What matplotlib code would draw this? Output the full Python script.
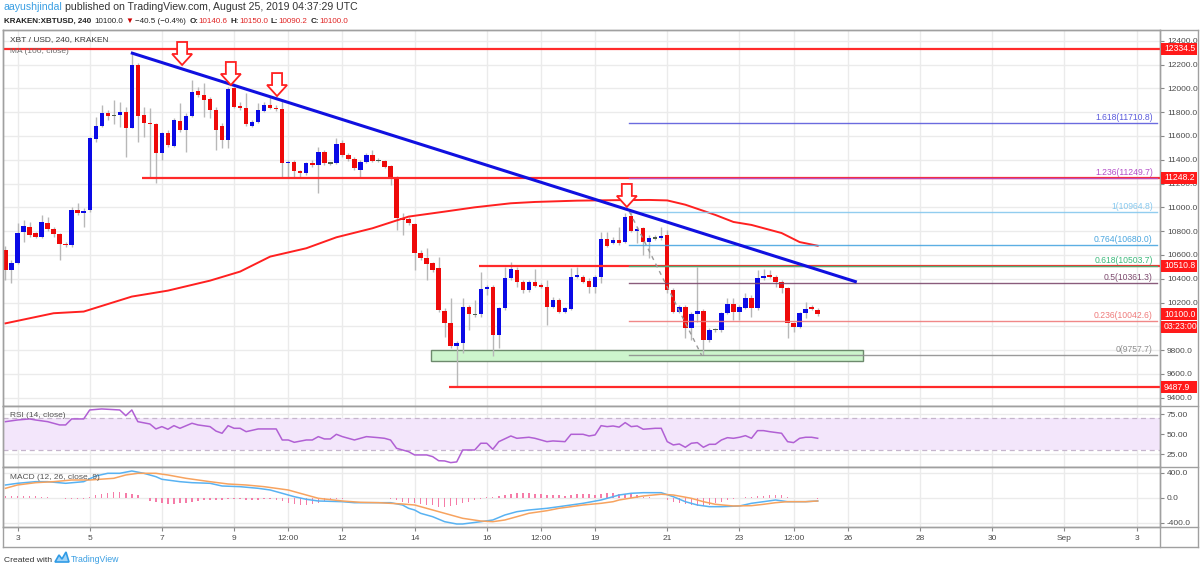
import numpy as np
import pandas as pd
import matplotlib
matplotlib.use("Agg")
import matplotlib.pyplot as plt
from matplotlib.patches import Rectangle, Polygon
from matplotlib.lines import Line2D
import matplotlib.transforms as mtransforms

# ---------------- data ----------------
start_time = "2019-08-02 16:00"          # first 4h candle
opens = [10642, 10474, 10536, 10790, 10838, 10782, 10754, 10872, 10816, 10776, 10690, 10684, 10978, 10956,
         10978, 11574, 11684, 11796, 11768, 11773, 11804, 11670, 12196, 11776, 11712, 11698, 11460, 11622,
         11516, 11726, 11650, 11768, 11978, 11944, 11908, 11818, 11684, 11566, 12000, 11852, 11838, 11684,
         11720, 11812, 11857, 11832, 11824, 11370, 11384, 11306, 11286, 11376, 11356, 11468, 11370, 11370,
         11544, 11440, 11404, 11314, 11384, 11440, 11396, 11392, 11348, 11258, 10908, 10900, 10860, 10620,
         10572, 10530, 10488, 10132, 10026, 9836, 9858, 10166, 10104, 10104, 10312, 10328, 9928, 10152,
         10404, 10474, 10370, 10306, 10370, 10348, 10334, 10166, 10222, 10124, 10144, 10412, 10418, 10384,
         10328, 10412, 10732, 10704, 10726, 10706, 10928, 10804, 10824, 10712, 10746, 10740, 10768, 10306,
         10124, 10166, 9984, 10104, 10132, 9886, 9970, 9970, 10116, 10186, 10124, 10158, 10242, 10152,
         10407, 10429, 10412, 10373, 10326, 10032, 9998, 10116, 10160, 10140.6]
highs = [10676, 10558, 10866, 10894, 10880, 10796, 10936, 10922, 10838, 10788, 10712, 11006, 11034, 10992,
         11594, 11762, 11860, 11818, 11900, 11888, 11846, 12290, 12210, 11846, 11832, 11706, 11636, 11650,
         11748, 11874, 11790, 12070, 12014, 12042, 11930, 11846, 11706, 12014, 12014, 11888, 11958, 11734,
         11874, 11888, 11930, 11860, 11902, 11398, 11398, 11314, 11384, 11398, 11510, 11482, 11384, 11580,
         11566, 11454, 11426, 11398, 11454, 11482, 11412, 11398, 11356, 11264, 10950, 10922, 10872, 10642,
         10656, 10544, 10586, 10150, 10240, 9880, 10236, 10180, 10222, 10460, 10348, 10348, 10166, 10502,
         10544, 10502, 10390, 10390, 10480, 10362, 10390, 10250, 10236, 10166, 10488, 10502, 10432, 10404,
         10432, 10796, 10796, 10754, 10838, 10950, 10964.8, 10838, 10838, 10768, 10768, 10838, 10810, 10320,
         10180, 10180, 10124, 10502, 10144, 9984, 9984, 10124, 10242, 10236, 10180, 10278, 10264, 10474,
         10480, 10474, 10432, 10390, 10334, 10040, 10124, 10208, 10180, 10150]
lows = [10390, 10368, 10524, 10712, 10754, 10740, 10740, 10804, 10754, 10558, 10670, 10670, 10936, 10838,
        10964, 11552, 11672, 11734, 11700, 11672, 11426, 11664, 11552, 11594, 11258, 11208, 11398, 11510,
        11504, 11636, 11468, 11756, 11930, 11762, 11748, 11482, 11496, 11496, 11832, 11818, 11684, 11672,
        11712, 11804, 11824, 11812, 11258, 11258, 11258, 11258, 11272, 11342, 11118, 11356, 11356, 11364,
        11426, 11392, 11314, 11258, 11376, 11384, 11382, 11328, 11188, 10810, 10768, 10852, 10474, 10558,
        10390, 10460, 10124, 9914, 9816, 9487.9, 9774, 9970, 10082, 10082, 10264, 9752, 9816, 10138,
        10390, 10334, 10278, 10292, 10334, 10320, 10012, 10152, 10110, 10110, 10138, 10404, 10362, 10278,
        10278, 10362, 10664, 10692, 10684, 10698, 10796, 10698, 10600, 10572, 10726, 10726, 10278, 10110,
        10110, 9900, 9886, 10040, 9757.7, 9872, 9956, 9956, 10104, 10054, 10054, 10144, 10082, 10138,
        10390, 10404, 10334, 10278, 9900, 9956, 9984, 10068, 10138, 10090.2]
closes = [10474, 10536, 10782, 10846, 10768, 10754, 10874, 10816, 10776, 10690, 10681, 10978, 10956, 10972,
          11580, 11686, 11796, 11768, 11774, 11804, 11670, 12196, 11768, 11712, 11700, 11460, 11622, 11524,
          11734, 11650, 11768, 11966, 11944, 11902, 11818, 11650, 11566, 11992, 11846, 11832, 11698, 11720,
          11818, 11857, 11832, 11824, 11370, 11384, 11308, 11286, 11370, 11356, 11468, 11370, 11373, 11530,
          11440, 11404, 11328, 11384, 11440, 11392, 11392, 11342, 11258, 10908, 10894, 10866, 10614, 10572,
          10524, 10474, 10138, 10026, 9836, 9864, 10166, 10104, 10100, 10314, 10328, 9928, 10152, 10404,
          10480, 10370, 10306, 10370, 10342, 10328, 10166, 10222, 10124, 10152, 10412, 10429, 10376, 10334,
          10412, 10734, 10676, 10726, 10698, 10922, 10804, 10816, 10712, 10746, 10740, 10760, 10306, 10124,
          10166, 9984, 10104, 10130, 9886, 9970, 9975, 10116, 10186, 10124, 10160, 10242, 10152, 10410,
          10424, 10412, 10370, 10326, 10032, 9998, 10116, 10149, 10149, 10100]

# MA(100) read at candle indices (index 0 = first candle)
ma_idx = [0, 8, 13, 21, 27, 34, 39, 44, 50, 55, 61, 67, 73, 78, 84, 88, 95, 101, 107, 110, 113, 118, 121,
          124, 129, 132, 135]
ma_val = [10025, 10110, 10124, 10250, 10300, 10384, 10460, 10586, 10656, 10748, 10824, 10922, 10964, 11000,
          11034, 11045, 11056, 11060, 11062, 11058, 11022, 10936, 10877, 10852, 10784, 10708, 10677]

# RSI(14) read at candle indices
rsi_idx = [0, 2, 4, 5, 7, 9, 10, 11, 13, 14, 16, 19, 20, 21, 22, 24, 25, 26, 27, 28, 29, 31, 32, 34, 35,
           36, 37, 38, 39, 40, 42, 45, 46, 47, 48, 50, 51, 52, 53, 54, 55, 56, 58, 59, 60, 62, 63, 64, 65,
           66, 67, 68, 70, 71, 72, 73, 74, 75, 76, 78, 79, 80, 81, 82, 84, 85, 87, 88, 90, 91, 93, 94, 96,
           97, 98, 99, 100, 101, 102, 103, 104, 105, 106, 108, 109, 110, 111, 112, 113, 114, 115, 116, 117,
           118, 119, 120, 121, 122, 123, 124, 125, 126, 127, 129, 130, 131, 132, 133, 134, 135]
rsi_val = [65.8, 67.9, 69.2, 67.9, 65.8, 61.7, 61.7, 69.2, 69.2, 80.4, 81.7, 80.4, 73.3, 80.4, 65.8, 62.9,
           56.7, 59.6, 56.3, 60.8, 57.5, 63.8, 61.7, 59.6, 54.0, 51.3, 60.8, 57.5, 57.5, 53.3, 56.7, 56.7,
           42.9, 42.9, 40.0, 42.9, 42.9, 47.1, 44.2, 44.2, 50.0, 47.1, 42.9, 45.0, 47.1, 45.8, 45.0, 42.9,
           32.5, 30.4, 28.3, 24.2, 24.2, 22.1, 17.0, 16.7, 14.6, 15.5, 30.4, 30.4, 38.8, 38.8, 31.3, 40.8,
           47.9, 45.0, 46.3, 45.0, 40.8, 41.7, 40.8, 50.0, 50.0, 47.9, 49.2, 60.8, 59.6, 60.4, 59.0, 64.6,
           59.6, 60.4, 56.3, 57.5, 57.5, 40.8, 36.7, 37.9, 33.8, 38.8, 39.6, 33.8, 37.5, 37.5, 42.9, 45.8,
           45.0, 46.3, 48.3, 45.0, 54.6, 54.6, 53.3, 51.3, 40.8, 39.6, 45.0, 46.3, 46.3, 45.0]

# MACD(12, 26, 9): macd line, signal line (read at candle indices) and histogram per candle
macd_idx = [0, 2, 5, 7, 10, 13, 15, 17, 19, 21, 23, 25, 26, 29, 31, 34, 36, 39, 42, 44, 46, 48, 50, 52, 56,
            58, 61, 64, 66, 67, 68, 69, 71, 73, 75, 76, 79, 81, 83, 85, 87, 90, 92, 94, 96, 99, 101, 102,
            104, 106, 109, 111, 113, 115, 117, 119, 122, 124, 126, 128, 130, 133, 135]
macd_val = [208, 235, 261, 261, 235, 261, 352, 395, 395, 432, 395, 341, 299, 261, 245, 235, 192, 181, 155,
            128, 75, 21, -21, -48, -59, -75, -75, -75, -112, -165, -192, -245, -299, -379, -416, -416, -379,
            -352, -272, -219, -192, -165, -139, -112, -85, -32, 21, 48, 75, 85, 85, 21, -59, -112, -139,
            -139, -128, -85, -59, -32, -59, -59, -48]
sig_idx = [0, 2, 5, 8, 11, 14, 18, 20, 22, 25, 27, 30, 34, 37, 40, 43, 47, 50, 52, 56, 59, 62, 66, 68, 70,
           73, 76, 79, 81, 83, 85, 87, 90, 92, 94, 96, 99, 101, 102, 104, 106, 109, 111, 114, 116, 118, 121,
           124, 126, 128, 130, 133, 135]
sig_val = [155, 208, 245, 261, 288, 288, 315, 368, 395, 395, 368, 315, 261, 224, 208, 181, 128, 48, -5, -48,
           -69, -75, -96, -112, -165, -245, -325, -368, -379, -352, -299, -245, -203, -165, -139, -112, -85,
           -59, -32, 0, 32, 60, 48, -5, -59, -101, -128, -123, -101, -75, -59, -59, -48]
hist = [32, 32, 32, 32, 27, 27, 21, 16, 5, 0, -11, -16, -16, -11, 11, 43, 64, 85, 96, 90, 80, 64, 48, 0,
        -43, -59, -80, -90, -96, -85, -75, -59, -48, -37, -32, -32, -27, -21, -16, -21, -27, -27, -27, -21,
        -21, -27, -48, -80, -101, -112, -107, -96, -75, -53, -37, -21, -11, -5, -5, 0, 5, 5, 0, -5, -16,
        -37, -59, -75, -85, -96, -112, -112, -139, -139, -128, -112, -85, -59, -32, -11, 11, 21, 32, 48,
        64, 75, 75, 75, 64, 64, 48, 48, 48, 37, 48, 64, 64, 59, 48, 64, 75, 75, 64, 64, 64, 48, 21, 11, 0,
        0, -32, -59, -85, -96, -112, -123, -123, -112, -85, -59, -32, -21, 0, 11, 21, 32, 37, 43, 43, 43,
        21, 5, 0, -5, -5, -11]

# horizontal support / resistance lines: (price, start day-of-August)
hline_prices = [12334.5, 11248.2, 10510.8, 9487.9]
hline_starts = [2.6, 6.45, 15.78, 14.95]
# descending trend line (day, price)
trend_days = [6.14, 26.25]
trend_prices = [12299, 10372]
# support zone
zone_days = [14.455, 26.42]
zone_prices = [9710, 9800]
# fib extension
fib_levels = ["1.618", "1.236", "1", "0.764", "0.618", "0.5", "0.236", "0"]
fib_prices = [11710.8, 11249.7, 10964.8, 10680.0, 10503.7, 10361.3, 10042.6, 9757.7]
fib_colors = ["#5b5bdc", "#b54fc8", "#86c8ee", "#4aa6e0", "#3dba7c", "#7d4a6e", "#ef7b7b", "#8f8f8f"]
fib_start = 19.95
fib_diag_days = [19.95, 21.95]
fib_diag_prices = [10964.8, 9757.7]
# arrow tips (day, price)
arrow_days = [7.56, 8.91, 10.19, 19.88]
arrow_prices = [12196, 12028, 11935, 11003]
# axis ticks
xtick_days = [3, 5, 7, 9, 10.5, 12, 14, 16, 17.5, 19, 21, 23, 24.5, 26, 28, 30, 32, 34]
xtick_labels = ["3", "5", "7", "9", "12:00", "12", "14", "16", "12:00", "19", "21", "23", "12:00",
                "26", "28", "30", "Sep", "3"]
price_ticks = list(range(9400, 12401, 200))
rsi_ticks = [25, 50, 75]
macd_ticks = [-400, 0, 400]
box_prices = [12334.5, 11248.2, 10510.8, 10100.0, 9487.9]
box_labels = ["12334.5", "11248.2", "10510.8", "10100.0", "9487.9"]
countdown = "03:23:00"

# ---------------- figure ----------------
W, H = 1200, 570
fig = plt.figure(figsize=(12, 5.7), dpi=100)
fig.patch.set_facecolor("white")
FONT = ["Liberation Sans", "DejaVu Sans"]
plt.rcParams["font.family"] = FONT

L_PX, R_PX, FR_PX = 3, 1160, 1198
TOP, P_BOT, R_BOT, M_BOT, X_BOT = 30, 405.7, 467.3, 527, 547


def fy(py):
    return 1 - py / H


ax = fig.add_axes([L_PX / W, fy(P_BOT), (R_PX - L_PX) / W, (P_BOT - TOP) / H])
ax_r = fig.add_axes([L_PX / W, fy(R_BOT), (R_PX - L_PX) / W, (R_BOT - P_BOT) / H], sharex=ax)
ax_m = fig.add_axes([L_PX / W, fy(M_BOT), (R_PX - L_PX) / W, (M_BOT - R_BOT) / H], sharex=ax)

times = pd.date_range(start_time, periods=len(closes), freq="4h")
xd = np.asarray((times - pd.Timestamp("2019-08-01")) / pd.Timedelta("1D") + 1.0)
o = np.array(opens, float); h = np.array(highs, float)
l = np.array(lows, float); c = np.array(closes, float)

XMIN, XMAX = 2.598, 34.65
ax.set_xlim(XMIN, XMAX)
ax.set_ylim(9333, 12490)
ax_r.set_ylim(8.75, 85.75)
ax_m.set_ylim(-464, 491)

GRID = "#ebebeb"
SPINE = "#a0a0a0"
TICKC = "#4a4a4a"
for a in (ax, ax_r, ax_m):
    a.set_facecolor("white")
    for xt in xtick_days:
        a.axvline(xt, color=GRID, lw=1, zorder=0)
    for s in a.spines.values():
        s.set_color(SPINE)
        s.set_linewidth(1)
    a.yaxis.tick_right()
    a.tick_params(axis="y", direction="out", length=3, width=0.8, color="#888888",
                  labelsize=6, labelcolor=TICKC, pad=2)
    a.tick_params(axis="x", length=0)
for p in price_ticks:
    ax.axhline(p, color=GRID, lw=1, zorder=0)
for p in rsi_ticks:
    ax_r.axhline(p, color=GRID, lw=1, zorder=0)
for p in macd_ticks:
    ax_m.axhline(p, color=GRID, lw=1, zorder=0)

ax.set_yticks(price_ticks)
# 10000.0 sits under the countdown box in the reference, so it is not shown
ax.set_yticklabels(["" if p == 10000 else f"{p:.1f}" for p in price_ticks])
ax_r.set_yticks(rsi_ticks)
ax_r.set_yticklabels([f"{p:.2f}" for p in rsi_ticks])
ax_m.set_yticks(macd_ticks)
ax_m.set_yticklabels([f"{p:.1f}" for p in macd_ticks])
plt.setp(ax.get_xticklabels(), visible=False)
plt.setp(ax_r.get_xticklabels(), visible=False)
ax_m.set_xticks(xtick_days)
ax_m.set_xticklabels(xtick_labels)
ax_m.tick_params(axis="x", direction="out", length=3, width=0.8, color="#888888",
                 labelsize=6, labelcolor=TICKC, pad=3)

# ---------------- price panel ----------------
ppx = (P_BOT - TOP) / (12490 - 9333)          # pixels per price unit
dpx = (R_PX - L_PX) / (XMAX - XMIN)           # pixels per day

# support zone
ax.add_patch(Rectangle((zone_days[0], zone_prices[0]), zone_days[1] - zone_days[0],
                       zone_prices[1] - zone_prices[0], facecolor="#cdf5cd", edgecolor="#6d8a6d",
                       lw=1, zorder=1))

# MA 100
ax.plot(xd[0] + np.array(ma_idx) / 6.0, ma_val, color="#ff2020", lw=1.4, zorder=4)

# candles
ax.vlines(xd, l, h, color="#b8b8b8", lw=1, zorder=2)
diff = c - o
colors = np.where(np.abs(diff) <= 6, "#4f5f4f", np.where(diff > 0, "#0a0ae6", "#ee0a0a"))
minh = 1.3 / ppx
body_h = np.maximum(np.abs(diff), minh)
body_b = np.minimum(o, c) - (body_h - np.abs(diff)) / 2
ax.bar(xd, body_h, bottom=body_b, width=4.4 / dpx, color=colors, linewidth=0, zorder=3)

# horizontal red lines
for p, s in zip(hline_prices, hline_starts):
    ax.plot([s, XMAX], [p, p], color="#ff2a2a", lw=1.6, zorder=4, solid_capstyle="butt")

# fib extension
for lev, p, col in zip(fib_levels, fib_prices, fib_colors):
    ax.plot([fib_start, XMAX - 0.08], [p, p], color=col, lw=1.0, zorder=5, alpha=0.9)
    ax.text(XMAX - 0.2, p + 1.0 / ppx, f"{lev}({p:.1f})", color=col, fontsize=6.2,
            ha="right", va="bottom", zorder=6)
ax.plot(fib_diag_days, fib_diag_prices, color="#9a9a9a", lw=1, ls=(0, (3, 3)), zorder=5)

# trend line
ax.plot(trend_days, trend_prices, color="#1010e0", lw=2.2, zorder=6, solid_capstyle="butt")

# arrows
shape = np.array([(0, 0), (-10, -11), (-5, -11), (-5, -23), (5, -23), (5, -11), (10, -11)], float)
for xa, ya in zip(arrow_days, arrow_prices):
    verts = np.column_stack([xa + shape[:, 0] / dpx, ya - shape[:, 1] / ppx])
    ax.add_patch(Polygon(verts, closed=True, facecolor="white", edgecolor="#ff2020", lw=1.3, zorder=7))

ax.text(7 / (R_PX - L_PX), 1 - 10 / (P_BOT - TOP), "XBT / USD, 240, KRAKEN", transform=ax.transAxes,
        fontsize=6.0, color="#3a3a3a", ha="left", va="center", zorder=8)
ax.text(7 / (R_PX - L_PX), 1 - 21.5 / (P_BOT - TOP), "MA (100, close)", transform=ax.transAxes,
        fontsize=6.0, color="#6e6e6e", ha="left", va="center", zorder=8)

# ---------------- RSI panel ----------------
ax_r.axhspan(30, 70, facecolor="#f3e6fb", edgecolor="none", zorder=0.5)
for lv in (30, 70):
    ax_r.axhline(lv, color="#c5b5cc", lw=0.9, ls=(0, (4, 3)), zorder=1)
ax_r.plot(xd[0] + np.array(rsi_idx) / 6.0, rsi_val, color="#b160d4", lw=1.1, zorder=3)
ax_r.text(7 / (R_PX - L_PX), 1 - 10 / (R_BOT - P_BOT), "RSI (14, close)", transform=ax_r.transAxes,
          fontsize=6.0, color="#555555", ha="left", va="center")

# ---------------- MACD panel ----------------
ax_m.bar(xd, hist, width=1.4 / dpx, color="#f57ca8", linewidth=0, zorder=2)
ax_m.plot(xd[0] + np.array(macd_idx) / 6.0, macd_val, color="#58b2f2", lw=1.1, zorder=3)
ax_m.plot(xd[0] + np.array(sig_idx) / 6.0, sig_val, color="#f7a35f", lw=1.1, zorder=3)
ax_m.text(7 / (R_PX - L_PX), 1 - 10 / (M_BOT - R_BOT), "MACD (12, 26, close, 9)", transform=ax_m.transAxes,
          fontsize=6.0, color="#555555", ha="left", va="center")

# ---------------- frame lines ----------------
def hline_px(y, x0, x1):
    fig.add_artist(Line2D([x0 / W, x1 / W], [fy(y), fy(y)], color=SPINE, lw=1))


def vline_px(x, y0, y1):
    fig.add_artist(Line2D([x / W, x / W], [fy(y0), fy(y1)], color=SPINE, lw=1))


for yy in (TOP, P_BOT, R_BOT, M_BOT, X_BOT):
    hline_px(yy, L_PX, FR_PX)
vline_px(L_PX, TOP, X_BOT)
vline_px(R_PX, TOP, X_BOT)
vline_px(FR_PX, TOP, X_BOT)

# ---------------- right-side price boxes ----------------
fig.canvas.draw()
ident = mtransforms.IdentityTransform()
for p, lab in zip(box_prices, box_labels):
    yy = ax.transData.transform((XMIN, p))[1]
    fig.add_artist(Rectangle((R_PX + 0.5, yy - 6), 36, 12, transform=ident, facecolor="#ff1a1a",
                             edgecolor="none", zorder=10))
    fig.text((R_PX + 4) / W, yy / H, lab, color="white", fontsize=6.2, ha="left", va="center", zorder=11)
    if lab == "10100.0":
        fig.add_artist(Rectangle((R_PX + 0.5, yy - 18.5), 36, 12, transform=ident, facecolor="#ff1a1a",
                                 edgecolor="none", zorder=10))
        fig.text((R_PX + 4) / W, (yy - 12.5) / H, countdown, color="white", fontsize=6.2, ha="left",
                 va="center", zorder=11)

# ---------------- header & footer ----------------
renderer = fig.canvas.get_renderer()


def runs(x, y, parts, size):
    for txt, col, wt, gap in parts:
        t = fig.text(x / W, fy(y), txt, color=col, fontsize=size, fontweight=wt, ha="left", va="baseline",
                     family=FONT)
        bb = t.get_window_extent(renderer)
        x += bb.width + gap


runs(4, 10.5, [("aayushjindal", "#3a9fe3", "normal", 2.5),
               ("published on TradingView.com, August 25, 2019 04:37:29 UTC", "#333333", "normal", 0)], 7.6)
runs(4, 23, [("KRAKEN:XBTUSD, 240", "#222222", "bold", 3.5),
             ("10100.0", "#222222", "normal", 2), ("▼", "#cc0000", "normal", 2),
             ("\u221240.5 (\u22120.4%)", "#222222", "normal", 3),
             ("O:", "#222222", "bold", 0.3), ("10140.6", "#e02424", "normal", 3),
             ("H:", "#222222", "bold", 0.3), ("10150.0", "#e02424", "normal", 3),
             ("L:", "#222222", "bold", 0.3), ("10090.2", "#e02424", "normal", 3),
             ("C:", "#222222", "bold", 0.3), ("10100.0", "#e02424", "normal", 0)], 5.75)

runs(4, 562, [("Created with", "#333333", "normal", 0)], 6.1)
logo = np.array([(55, 562), (59, 555), (62, 559), (66, 552), (69, 562)], float)
fig.add_artist(Polygon(np.column_stack([logo[:, 0], H - logo[:, 1]]), closed=True, transform=ident,
                       facecolor="#9fd3f7", edgecolor="#2f9be6", lw=1.2))
runs(71, 562, [("TradingView", "#3a9fe3", "normal", 0)], 6.3)

fig.savefig("out.png", dpi=100, facecolor="white")
